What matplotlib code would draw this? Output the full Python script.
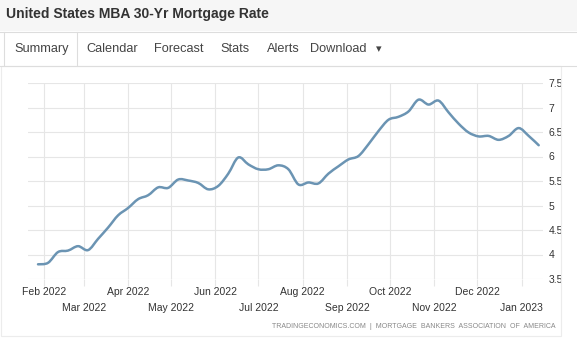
import matplotlib
matplotlib.use("Agg")
import matplotlib.pyplot as plt
import matplotlib.dates as mdates
from matplotlib.patches import Rectangle, PathPatch
from matplotlib.path import Path
import numpy as np
import datetime as dt

plt.rcParams['font.family'] = ['Liberation Sans', 'DejaVu Sans']

title = "United States MBA 30-Yr Mortgage Rate"
tabs = ["Summary", "Calendar", "Forecast", "Stats", "Alerts", "Download"]
source = "TRADINGECONOMICS.COM  |  MORTGAGE  BANKERS  ASSOCIATION  OF  AMERICA"

# weekly readings, first week ending 28 Jan 2022
start = dt.date(2022, 1, 28)
rates = [3.80, 3.83, 4.05, 4.08, 4.17, 4.09, 4.32, 4.55, 4.80, 4.95,
         5.13, 5.21, 5.37, 5.36, 5.53, 5.51, 5.46, 5.33, 5.40, 5.65,
         5.98, 5.84, 5.74, 5.74, 5.82, 5.74, 5.43, 5.47, 5.45, 5.65,
         5.80, 5.94, 6.01, 6.25, 6.52, 6.75, 6.81, 6.92, 7.16, 7.06,
         7.14, 6.90, 6.67, 6.49, 6.41, 6.42, 6.34, 6.42, 6.58, 6.42,
         6.23]
dates = [start + dt.timedelta(days=7 * i) for i in range(len(rates))]

months = [dt.date(2022, m, 1) for m in range(2, 13)] + [dt.date(2023, 1, 1)]
month_labels = [d.strftime("%b %Y") for d in months]
yticks = [3.5, 4, 4.5, 5, 5.5, 6, 6.5, 7, 7.5]
ytick_labels = ["3.5", "4", "4.5", "5", "5.5", "6", "6.5", "7", "7.5"]

W, H = 577, 340
fig = plt.figure(figsize=(W / 100, H / 100), dpi=100)
fig.patch.set_facecolor("white")

def fx(px):
    return px / W

def fy(py):
    return 1 - py / H

# header band
fig.patches.append(Rectangle((0, fy(31)), 1, 31 / H, transform=fig.transFigure,
                             facecolor="#f6f6f6", edgecolor="none", zorder=0))
fig.text(fx(6), fy(14), title, fontsize=10, fontweight="bold", color="#333333",
         va="center", ha="left")
fig.add_artist(plt.Line2D([0, 1], [fy(31.5), fy(31.5)], transform=fig.transFigure,
                          color="#dddddd", lw=0.8))
fig.add_artist(plt.Line2D([0, 1], [fy(65.5), fy(65.5)], transform=fig.transFigure,
                          color="#dddddd", lw=0.8))
# selected tab
fig.add_artist(plt.Line2D([fx(4), fx(4)], [fy(31.5), fy(65)], transform=fig.transFigure,
                          color="#dddddd", lw=0.8))
fig.add_artist(plt.Line2D([fx(77), fx(77)], [fy(31.5), fy(65)], transform=fig.transFigure,
                          color="#dddddd", lw=0.8))
tab_x = [42, 112, 179, 235, 283, 338]
for name, x in zip(tabs, tab_x):
    fig.text(fx(x), fy(49), name, fontsize=9.2, color="#444444", ha="center", va="center")
fig.text(fx(379), fy(49), "\u25be", fontsize=8, color="#444444", ha="center", va="center")

# frame around chart area
fig.add_artist(Rectangle((fx(0.5), fy(336)), fx(560), (336 - 66) / H, transform=fig.transFigure,
                         facecolor="none", edgecolor="#ececec", lw=0.8))

ax = fig.add_axes([fx(28), fy(279), fx(543 - 28), (279 - 83) / H])

# smooth spline through the weekly points (Catmull-Rom as cubic Bezier)
xs = mdates.date2num(dates)
ys = np.array(rates)
verts = [(xs[0], ys[0])]
codes = [Path.MOVETO]
n = len(xs)
for i in range(n - 1):
    p0 = (xs[max(i - 1, 0)], ys[max(i - 1, 0)])
    p1 = (xs[i], ys[i])
    p2 = (xs[i + 1], ys[i + 1])
    p3 = (xs[min(i + 2, n - 1)], ys[min(i + 2, n - 1)])
    c1 = (p1[0] + (p2[0] - p0[0]) / 6, p1[1] + (p2[1] - p0[1]) / 6)
    c2 = (p2[0] - (p3[0] - p1[0]) / 6, p2[1] - (p3[1] - p1[1]) / 6)
    verts += [c1, c2, p2]
    codes += [Path.CURVE4] * 3
ax.add_patch(PathPatch(Path(verts, codes), facecolor="none", edgecolor="#6b94b3",
                       lw=1.8, capstyle="round", joinstyle="round", zorder=3))

ax.set_ylim(3.5, 7.5)
ax.set_xlim(mdates.date2num(dt.date(2022, 1, 21)), mdates.date2num(dt.date(2023, 1, 16)))
ax.yaxis.tick_right()
ax.set_yticks(yticks)
ax.set_yticklabels(ytick_labels)
ax.tick_params(axis="y", length=0, pad=4, labelsize=7.5, labelcolor="#333333")

ax.set_xticks(months[0::2])
ax.set_xticklabels(month_labels[0::2])
ax.set_xticks(months[1::2], minor=True)
ax.set_xticklabels(month_labels[1::2], minor=True)
ax.tick_params(axis="x", which="major", length=5, pad=1, labelsize=7.5,
               labelcolor="#333333", color="#e6e6e6", width=0.8)
ax.tick_params(axis="x", which="minor", length=5, pad=12, labelsize=7.5,
               labelcolor="#333333", color="#e6e6e6", width=0.8)

ax.grid(True, which="both", axis="x", color="#e6e6e6", lw=0.8)
ax.grid(True, which="major", axis="y", color="#e6e6e6", lw=0.8)
for s in ax.spines.values():
    s.set_visible(False)
ax.set_facecolor("white")

fig.text(fx(555), fy(326), source, fontsize=5, color="#888888", ha="right", va="center")

fig.savefig("out.png", dpi=100)
